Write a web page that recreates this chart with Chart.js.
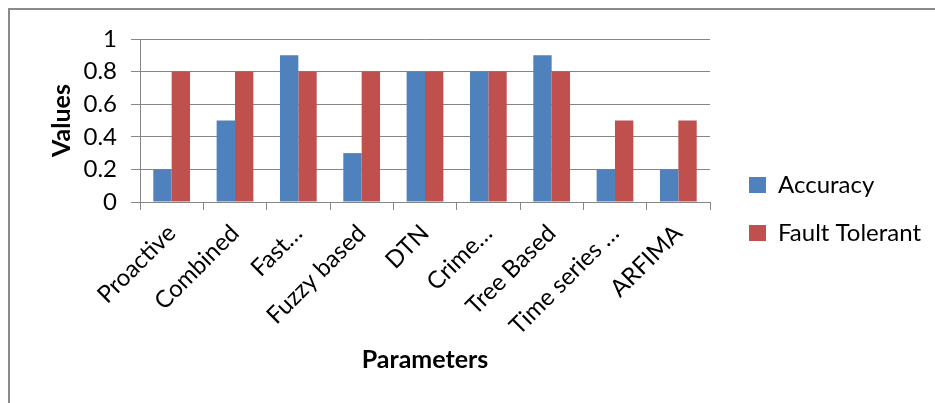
<!DOCTYPE html>
<html>
<head>
<meta charset="utf-8">
<script src="https://cdn.jsdelivr.net/npm/chart.js@4.4.0/dist/chart.umd.min.js"></script>
<style>
  html, body { margin: 0; padding: 0; background: #fff; }
  #wrap { position: relative; width: 935px; height: 403px; overflow: hidden; background: #fff; }
  #frame { position: absolute; left: 8px; top: 8px; width: 1000px; height: 500px;
           border-top: 2px solid #8a8a8a; border-left: 2px solid #8a8a8a; box-sizing: border-box; }
  #chart { position: absolute; left: 0; top: 0; }
</style>
</head>
<body>
<div id="wrap">
  <div id="frame"></div>
  <canvas id="chart" width="935" height="403"></canvas>
</div>
<script>
// values
const categories = ["Proactive", "Combined", "Fast…", "Fuzzy based", "DTN", "Crime…", "Tree Based", "Time series …", "ARFIMA"];
const accuracy = [0.2, 0.5, 0.9, 0.3, 0.8, 0.8, 0.9, 0.2, 0.2];
const faultTolerant = [0.8, 0.8, 0.8, 0.8, 0.8, 0.8, 0.8, 0.5, 0.5];
const yTicks = [0, 0.2, 0.4, 0.6, 0.8, 1];

const gridGray = "#868686";
const legendWidth = 225;
const legendShiftX = 15;
const legendShiftY = -12;

// keep the legend box a fixed width and nudge it a bit
const legendFix = {
  id: "legendFix",
  beforeLayout: function (chart) {
    const lg = chart.legend;
    if (lg && !lg._fixed) {
      const fit = lg.fit;
      lg.fit = function () {
        fit.call(this);
        this.width = legendWidth;
      };
      lg._fixed = true;
    }
  },
  afterLayout: function (chart) {
    const lg = chart.legend;
    if (lg) {
      lg.left += legendShiftX;
      lg.right += legendShiftX;
      lg.top += legendShiftY;
      lg.bottom += legendShiftY;
    }
  },
};

var ctx = document.getElementById("chart").getContext("2d");
var chart = new Chart(ctx, {
  type: "bar",
  data: {
    labels: categories,
    datasets: [
      {
        label: "Accuracy",
        data: accuracy,
        backgroundColor: "#4F81BD",
        borderWidth: 0,
      },
      {
        label: "Fault Tolerant",
        data: faultTolerant,
        backgroundColor: "#C0504D",
        borderWidth: 0,
      },
    ],
  },
  options: {
    responsive: false,
    animation: false,
    layout: { padding: { top: 39, left: 0, right: 0, bottom: 0 } },
    datasets: {
      bar: { categoryPercentage: 0.58, barPercentage: 1.0 },
    },
    scales: {
      x: {
        afterFit: function (s) { s.height = 201; },
        grid: { drawOnChartArea: false, tickLength: 8, color: gridGray },
        border: { color: gridGray },
        ticks: {
          autoSkip: false,
          maxRotation: 45,
          minRotation: 45,
          padding: 9,
          color: "#000",
          font: { family: "Lato", size: 24 },
        },
        title: {
          display: true,
          text: "Parameters",
          color: "#000",
          font: { family: "Lato", size: 25, weight: "bold" },
          padding: { top: 0, bottom: 28 },
        },
      },
      y: {
        min: 0,
        max: 1,
        afterFit: function (s) { s.width = 140; },
        afterBuildTicks: function (s) {
          s.ticks = yTicks.map((v) => ({ value: v }));
        },
        grid: { color: gridGray, tickLength: 9 },
        border: { color: gridGray },
        ticks: {
          padding: 14,
          color: "#000",
          font: { family: "Lato", size: 24 },
          callback: (v) => String(v),
        },
        title: {
          display: true,
          text: "Values",
          color: "#000",
          font: { family: "Lato", size: 25, weight: "bold" },
          padding: { top: 47, bottom: 0 },
        },
      },
    },
    plugins: {
      tooltip: { enabled: false },
      legend: {
        position: "right",
        align: "center",
        labels: {
          color: "#000",
          font: { family: "Lato", size: 24 },
          boxWidth: 17,
          boxHeight: 16,
          padding: 24,
        },
      },
    },
  },
  plugins: [legendFix],
});
</script>
</body>
</html>
